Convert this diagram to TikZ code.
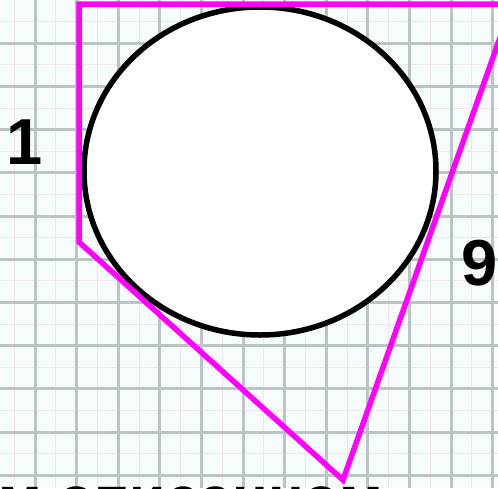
\documentclass[tikz,border=0pt]{standalone}
\usepackage{fontspec}
\setmainfont{Liberation Sans}
\usetikzlibrary{positioning}
\usepackage{xcolor}
\definecolor{side}{RGB}{255,0,255}
\definecolor{paper}{RGB}{246,251,251}
\definecolor{major}{RGB}{186,196,196}
\definecolor{minor}{RGB}{238,230,238}

\begin{document}
\begin{tikzpicture}[x=1pt,y=-1pt, every node/.style={inner sep=0pt,font=\fontsize{65}{70}\selectfont\bfseries},
  side/.style={draw=side,line width=5.5pt}, rim/.style={draw=black,line width=5.5pt,fill=white}]
\clip (0,0) rectangle (498,488);
\fill[paper] (0,0) rectangle (498,488);
% squared paper
\foreach \i in {0,...,11} \draw[minor,line width=1pt] ({14.2+41.6*\i},0) -- ++(0,488);
\foreach \j in {0,...,11} \draw[minor,line width=1pt] (0,{21.6+43.2*\j}) -- ++(498,0);
\foreach \i in {0,...,11} \draw[major,line width=3pt] ({35+41.6*\i},0) -- ++(0,488);
\foreach \j in {1,...,11} \draw[major,line width=3pt] (0,{43.2*\j}) -- ++(498,0);
% inscribed circle and the figure
\coordinate (O) at (260,171);
\coordinate (A) at (79,4);
\coordinate (B) at (512,4);
\coordinate (C) at (343,480);
\coordinate (D) at (79,242);
\draw[rim] (O) ellipse [x radius=176, y radius=164];
\draw[side] (A) -- (B) -- (C) -- (D) -- cycle;
\node (one) at (25,142) {1};
\node (nine) at (480,263) {9};
\node[anchor=base west,font=\fontsize{59}{64}\selectfont\bfseries] (caption) at (-2,518) {м описанном};
\end{tikzpicture}
\end{document}
